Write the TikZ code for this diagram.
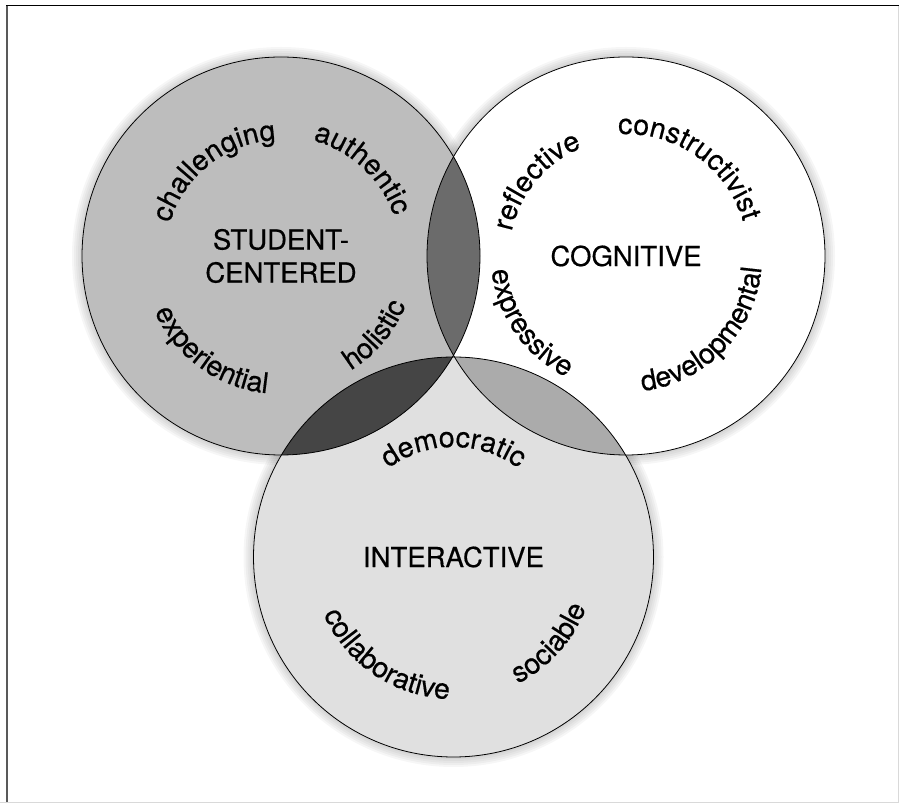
\documentclass[tikz,border=0pt]{standalone}
\usepackage{fontspec}
\setmainfont{TeX Gyre Heros}[FakeBold=0.5]
\usetikzlibrary{decorations.text}

\definecolor{studentgray}{gray}{0.74}
\definecolor{interactgray}{gray}{0.88}
\definecolor{stucog}{gray}{0.42}
\definecolor{stuint}{gray}{0.27}
\definecolor{cogint}{gray}{0.67}

\newcommand{\wordfont}{\fontsize{28.5}{32}\selectfont}
% word running clockwise over the top of a circle
\newcommand{\topword}[4]{%
  \path[decorate, decoration={text along path, text align=center, text={|\wordfont|#4}}]
    (#1) ++(#2+65:#3) arc[start angle=#2+65, end angle=#2-65, radius=#3];}
% word running anticlockwise round the bottom
\newcommand{\botword}[4]{%
  \path[decorate, decoration={text along path, text align=center, text={|\wordfont|#4}}]
    (#1) ++(#2-65:#3) arc[start angle=#2-65, end angle=#2+65, radius=#3];}

\begin{document}
\begin{tikzpicture}[x=1pt, y=1pt,
    ring/.style={line width=0.8pt},
    glow/.style={black, opacity=0.035},
    midlabel/.style={align=center, font=\fontsize{27.5}{33}\selectfont}]
    \useasboundingbox (0,0) rectangle (899,803);

    \coordinate (S) at (281, 547);
    \coordinate (C) at (626, 547);
    \coordinate (I) at (453.5, 246);

    % frame
    \draw[black!65, line width=2] (7,0) -- (7,797.5);
    \draw[line width=1] (6,797.5) -- (899,797.5);
    \draw[black!15] (0,1) -- (899,1);
    \draw[black!15] (898.5,1) -- (898.5,797);

    % soft edge round the circles
    \foreach \w in {4,8,12,16,20} {
        \draw[glow, line width=\w] (S) circle[radius=199];
        \draw[glow, line width=\w] (C) circle[radius=199];
        \draw[glow, line width=\w] (I) circle[radius=200];
    }

    \fill[studentgray] (S) circle[radius=199];
    \fill[white] (C) circle[radius=199];
    \fill[interactgray] (I) circle[radius=200];

    \begin{scope}
        \clip (S) circle[radius=199];
        \fill[stucog] (C) circle[radius=199];
        \fill[stuint] (I) circle[radius=200];
    \end{scope}
    \begin{scope}
        \clip (C) circle[radius=199];
        \fill[cogint] (I) circle[radius=200];
    \end{scope}

    \draw[ring] (S) circle[radius=199];
    \draw[ring] (C) circle[radius=199];
    \draw[ring] (I) circle[radius=200];

    \node[midlabel] (student) at (S) {STUDENT-\\CENTERED};
    \node[midlabel] (cognitive) at (C) {COGNITIVE};
    \node[midlabel] (interactive) at (I) {INTERACTIVE};

    \topword{S}{128}{116}{challenging}
    \topword{S}{47}{120}{authentic}
    \botword{S}{234}{138}{experiential}
    \botword{S}{320}{134}{holistic}

    \topword{C}{140}{117}{reflective}
    \topword{C}{55}{122}{constructivist}
    \botword{C}{215}{135}{expressive}
    \botword{C}{316}{136}{developmental}

    \topword{I}{90}{110}{democratic}
    \botword{I}{236}{142}{collaborative}
    \botword{I}{318}{142}{sociable}
\end{tikzpicture}
\end{document}
